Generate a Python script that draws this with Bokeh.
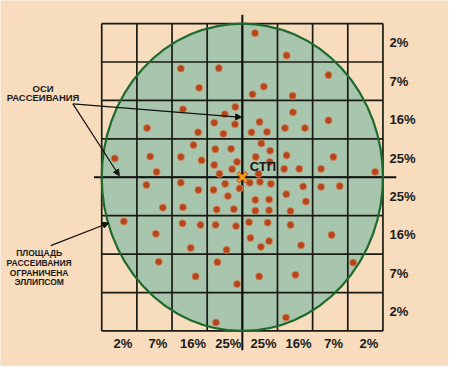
from bokeh.plotting import figure
from bokeh.models import Range1d, Arrow, NormalHead
from bokeh.core.properties import value
from bokeh.embed import file_html
from bokeh.resources import INLINE

# ---- data (grid-cell units, centre of dispersion at 0,0) ----
dots_x = [-1.75, -0.67, -1.23, -1.69, -0.20, -0.50, -0.80, -0.21, -2.71, -1.26,
          -0.54, -1.39, -0.77, -0.32, -3.63, -2.62, -1.75, -1.16, -0.15, -0.80,
          -2.44, -0.29, -0.65,
          0.36, 1.26, 2.45, 0.61, 0.29, 1.43, 1.44, 0.49, 2.45, 0.26,
          0.70, 1.21, 1.78, 0.54, 0.79, 1.26, 2.59, 0.38, 0.78, 1.19,
          1.62, 2.24, 3.78, 0.46,
          -2.73, -1.75, -1.25, -0.82, -0.49, -0.08, -0.41, -2.26, -1.69, -0.73,
          -0.24, -3.37, -1.70, -1.19, -0.76, -0.18, -2.46, -1.47, -0.45, -2.38,
          -0.71, -1.33, -0.15, -0.75,
          0.21, 0.50, 0.81, 1.73, 2.24, 2.77, 1.25, 1.81, 0.37, 0.76,
          0.37, 0.76, 1.37, 0.19, 0.72, 1.37, 0.23, 0.76, 0.53, 1.67,
          2.54, 3.15, 0.48, 1.51, 1.24]
dots_y = [2.83, 2.84, 2.33, 1.77, 1.83, 1.64, 1.42, 1.38, 1.28, 1.17,
          1.13, 0.84, 0.73, 0.74, 0.49, 0.54, 0.53, 0.44, 0.40, 0.32,
          0.14, 0.21, 0.09,
          3.75, 3.17, 2.66, 2.36, 2.16, 2.12, 1.69, 1.44, 1.48, 1.17,
          1.18, 1.28, 1.28, 0.88, 0.69, 0.57, 0.53, 0.53, 0.40, 0.22,
          0.22, 0.22, 0.14, 0.09,
          -0.20, -0.14, -0.33, -0.33, -0.17, -0.29, -0.49, -0.79, -0.78, -0.84,
          -0.83, -1.15, -1.20, -1.24, -1.24, -1.27, -1.47, -1.84, -1.89, -2.20,
          -2.21, -2.58, -2.78, -3.78,
          -0.14, -0.12, -0.17, -0.24, -0.25, -0.23, -0.44, -0.63, -0.59, -0.58,
          -0.87, -0.86, -0.88, -1.17, -1.18, -1.24, -1.58, -1.66, -1.81, -1.77,
          -1.50, -2.22, -2.58, -2.54, -3.65]
stp = [0.0, 0.0]
grid_pos = [-4, -3, -2, -1, 0, 1, 2, 3, 4]
row_labels = ["2%", "7%", "16%", "25%", "25%", "16%", "7%", "2%"]
row_centers = [3.5, 2.5, 1.5, 0.5, -0.5, -1.5, -2.5, -3.5]
col_labels = ["2%", "7%", "16%", "25%", "25%", "16%", "7%", "2%"]
col_centers = [-3.5, -2.5, -1.5, -0.5, 0.5, 1.5, 2.5, 3.5]
label_axes = ["ОСИ", "РАССЕИВАНИЯ"]
label_area = ["ПЛОЩАДЬ", "РАССЕИВАНИЯ", "ОГРАНИЧЕНА", "ЭЛЛИПСОМ"]

BG = "#f7dcbd"
FONT = value("Liberation Sans")

p = figure(width=448, height=366, output_backend="svg", toolbar_location=None,
           x_range=Range1d(-6.88, 5.865), y_range=Range1d(-4.925, 4.60),
           min_border=0, background_fill_color=BG, border_fill_color=BG)
p.outline_line_color = None
p.axis.visible = False
p.grid.visible = False

# ellipse fill
p.ellipse(x=[0], y=[0], width=[8], height=[8], fill_color="#a8c5ad",
          line_color=None)

# grid
p.segment(x0=grid_pos, y0=[-4] * 9, x1=grid_pos, y1=[4] * 9,
          line_color="#1b1b14", line_width=1.7)
p.segment(x0=[-4] * 9, y0=grid_pos, x1=[4] * 9, y1=grid_pos,
          line_color="#1b1b14", line_width=1.7)

# dispersion axes
p.segment(x0=[-4.22], y0=[0], x1=[4.38], y1=[0], line_color="#111111", line_width=2)
p.segment(x0=[0], y0=[-4.50], x1=[0], y1=[4.23], line_color="#111111", line_width=2)

# ellipse outline
p.ellipse(x=[0], y=[0], width=[8], height=[8], fill_color=None,
          line_color="#1d6a2c", line_width=2.2)

# dots
p.scatter(dots_x, dots_y, size=7.2, fill_color="#b4461c", line_color="#d88a62",
          line_width=0.8)

# STP marker
p.scatter([stp[0]], [stp[1]], marker="x", size=13, line_color="#c84a12", line_width=4)
p.scatter([stp[0]], [stp[1]], marker="x", size=12, line_color="#f7a21e", line_width=2.2)
p.text(x=[0.21], y=[0.29], text=["СТП"], text_font=FONT, text_font_style="bold",
       text_font_size="13px", text_color="#151515", text_align="left",
       text_baseline="middle")

# percentage labels
p.text(x=[4.19] * 8, y=row_centers, text=row_labels, text_font=FONT,
       text_font_style="bold", text_font_size="13px", text_color="#1a1a1a",
       text_align="left", text_baseline="middle")
p.text(x=[c + 0.1 for c in col_centers], y=[-4.33] * 8, text=col_labels, text_font=FONT,
       text_font_style="bold", text_font_size="13px", text_color="#1a1a1a",
       text_align="center", text_baseline="middle")

# annotations
p.text(x=[-5.67] * 2, y=[2.32, 2.08], text=label_axes, text_font=FONT,
       text_font_style="bold", text_font_size="9.5px", text_color="#1a1a1a",
       text_align="center", text_baseline="middle")
p.text(x=[-5.78] * 4, y=[-1.98, -2.24, -2.49, -2.73], text=label_area, text_font=FONT,
       text_font_style="bold", text_font_size="8.5px", text_color="#1a1a1a",
       text_align="center", text_baseline="middle")

for xs, ys, xe, ye in [(-4.82, 1.91, -0.02, 1.56),
                       (-4.82, 1.91, -3.50, 0.04),
                       (-5.45, -1.78, -3.80, -1.19)]:
    p.add_layout(Arrow(end=NormalHead(size=6, fill_color="#111111", line_color="#111111"),
                       x_start=xs, y_start=ys, x_end=xe, y_end=ye,
                       line_color="#111111", line_width=1.2))

open("out.html", "w").write(file_html(p, INLINE))
